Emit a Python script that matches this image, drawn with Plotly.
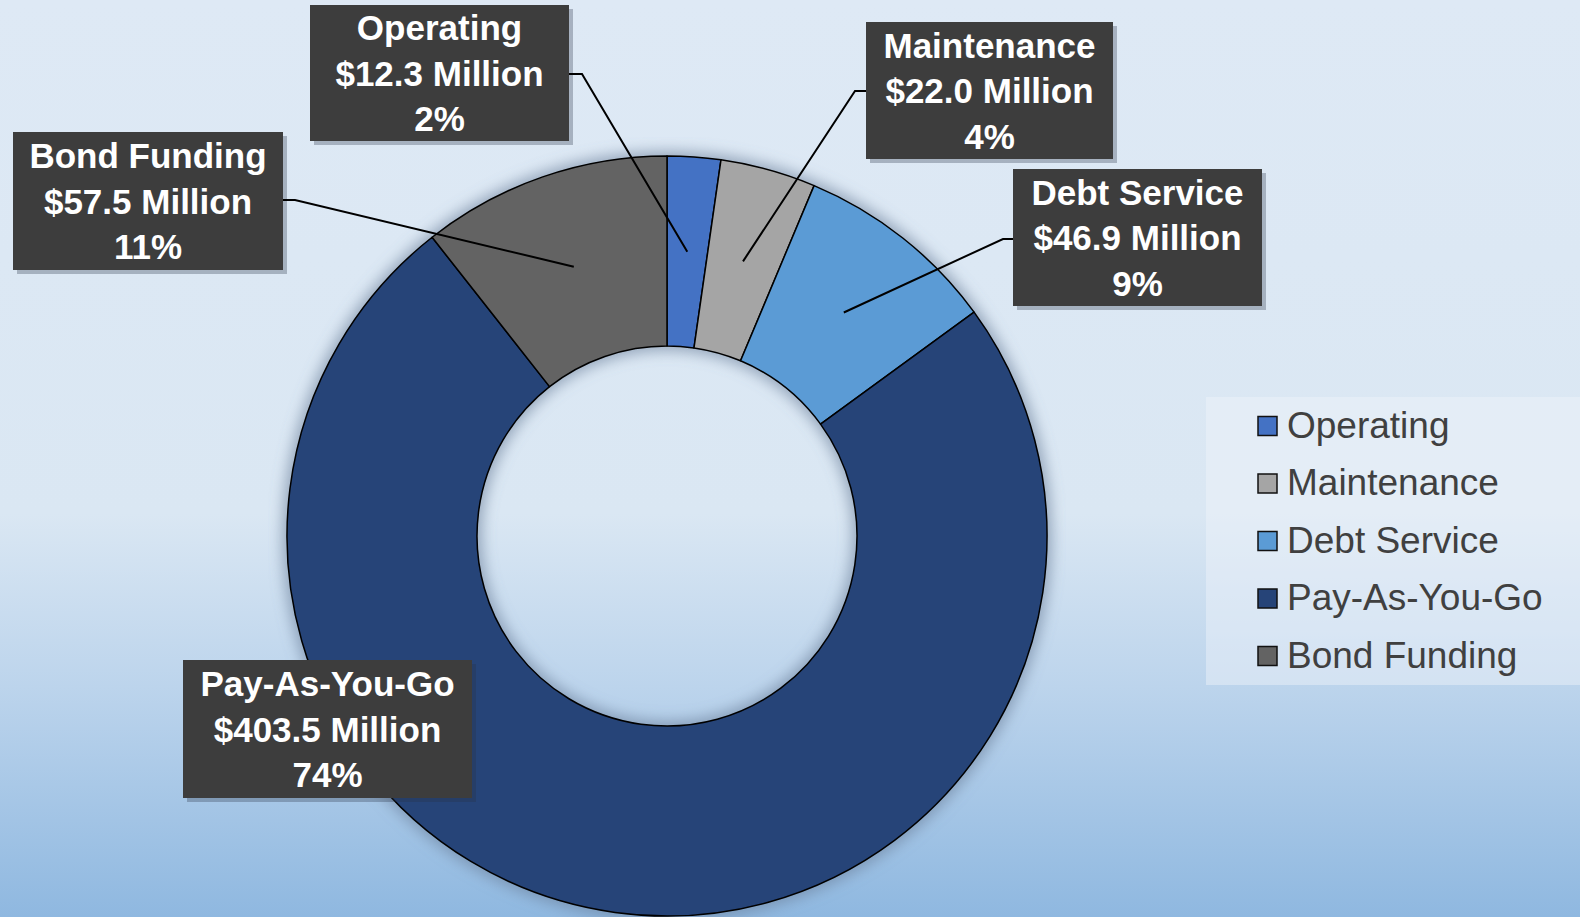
import base64
import math
import plotly.graph_objects as go

# ---- data -------------------------------------------------------------
categories = ["Operating", "Maintenance", "Debt Service", "Pay-As-You-Go", "Bond Funding"]
values_musd = [12.3, 22.0, 46.9, 403.5, 57.5]
colors = ["#4472C4", "#A5A5A5", "#5B9BD5", "#264478", "#636363"]

# ---- canvas / geometry ------------------------------------------------
W, H = 1580, 917
CX, CY, R = 667, 536, 380          # donut centre and outer radius (px)
HOLE = 0.5

dom_x = [(CX - R) / W, (CX + R) / W]
dom_y = [1 - (CY + R) / H, 1 - (CY - R) / H]


def px(x):
    return x / W


def py(y):
    return 1 - y / H


# callout boxes: centre x, centre y, width, height, leader elbow (start x, end x, y) or None
callouts = {
    "Operating": (439.5, 73, 259, 136, (569, 582, 74)),
    "Maintenance": (989.5, 90.5, 247, 137, (866, 855, 91)),
    "Debt Service": (1137.5, 237.5, 249, 137, (1013, 1003, 239)),
    "Pay-As-You-Go": (327.5, 729, 289, 138, None),
    "Bond Funding": (148, 201, 270, 138, (283, 295, 200)),
}

# ---- background: vertical gradient + soft shadow under the ring -------
ring_mid = R * (1 + HOLE) / 2
ring_w = R * (1 - HOLE)
svg = f"""<svg xmlns='http://www.w3.org/2000/svg' width='{W}' height='{H}' viewBox='0 0 {W} {H}'>
<defs>
<linearGradient id='g' x1='0' y1='0' x2='0' y2='1'>
<stop offset='0' stop-color='#dee9f5'/>
<stop offset='0.56' stop-color='#dae7f3'/>
<stop offset='0.75' stop-color='#bcd4ec'/>
<stop offset='1' stop-color='#8fb8e0'/>
</linearGradient>
<filter id='b' x='-20%' y='-20%' width='140%' height='140%'><feGaussianBlur stdDeviation='7'/></filter>
</defs>
<rect width='{W}' height='{H}' fill='url(#g)'/>
<circle cx='{CX}' cy='{CY}' r='{ring_mid}' fill='none' stroke='#6a7f99' stroke-opacity='0.6'
 stroke-width='{ring_w + 10}' filter='url(#b)'/>
</svg>"""
bg_uri = "data:image/svg+xml;base64," + base64.b64encode(svg.encode()).decode()

fig = go.Figure()
fig.add_trace(go.Pie(
    labels=categories,
    values=values_musd,
    marker=dict(colors=colors, line=dict(color="#000000", width=1.5)),
    hole=HOLE,
    sort=False,
    direction="clockwise",
    rotation=0,
    textinfo="none",
    hoverinfo="label+value+percent",
    showlegend=False,
    domain=dict(x=dom_x, y=dom_y),
))

total = sum(values_musd)
shapes = []
annotations = []

# ---- callouts with leader lines --------------------------------------
cum = 0.0
for name, val in zip(categories, values_musd):
    frac = val / total
    mid = (cum + frac / 2) * 2 * math.pi
    cum += frac
    ax = CX + 0.75 * R * math.sin(mid)
    ay = CY - 0.75 * R * math.cos(mid)

    bx, by, bw, bh, elbow = callouts[name]
    # drop shadow behind the box
    shapes.append(dict(
        type="rect", xref="paper", yref="paper", layer="above",
        x0=px(bx - bw / 2 + 4), x1=px(bx + bw / 2 + 4),
        y0=py(by + bh / 2 + 4), y1=py(by - bh / 2 + 4),
        fillcolor="rgba(40,50,70,0.30)", line=dict(width=0),
    ))
    if elbow is not None:
        x0, x1, ey = elbow
        shapes.append(dict(
            type="path", xref="paper", yref="paper", layer="above",
            path=f"M{px(x0)},{py(ey)} L{px(x1)},{py(ey)} L{px(ax)},{py(ay)}",
            line=dict(color="#000000", width=2),
        ))
    annotations.append(dict(
        xref="paper", yref="paper", x=px(bx), y=py(by),
        xanchor="center", yanchor="middle",
        text=f"<b>{name}<br>${val:.1f} Million<br>{round(frac * 100):.0f}%</b>",
        showarrow=False, align="center", valign="middle",
        width=bw, height=bh, borderpad=0, borderwidth=0,
        bgcolor="#3d3d3d",
        font=dict(family="Liberation Sans, Arial, sans-serif", size=35, color="#ffffff"),
    ))

# ---- legend ----------------------------------------------------------
LEG_X0, LEG_X1, LEG_Y0, LEG_Y1 = 1206, 1580, 397, 685
shapes.append(dict(
    type="rect", xref="paper", yref="paper", layer="above",
    x0=px(LEG_X0), x1=px(LEG_X1), y0=py(LEG_Y1), y1=py(LEG_Y0),
    fillcolor="rgba(240,245,250,0.45)", line=dict(width=0),
))
for i, (name, col) in enumerate(zip(categories, colors)):
    yc = 426 + i * 57.5
    shapes.append(dict(
        type="rect", xref="paper", yref="paper", layer="above",
        x0=px(1258), x1=px(1277), y0=py(yc + 9.5), y1=py(yc - 9.5),
        fillcolor=col, line=dict(color="#111111", width=1.5),
    ))
    annotations.append(dict(
        xref="paper", yref="paper", x=px(1285), y=py(yc - 1),
        xanchor="left", yanchor="middle", text=name, showarrow=False,
        font=dict(family="Liberation Sans, Arial, sans-serif", size=37, color="#404040"),
    ))

fig.update_layout(
    width=W, height=H,
    margin=dict(l=0, r=0, t=0, b=0),
    paper_bgcolor="#dde8f4",
    plot_bgcolor="rgba(0,0,0,0)",
    images=[dict(source=bg_uri, xref="paper", yref="paper", x=0, y=1,
                 sizex=1, sizey=1, xanchor="left", yanchor="top",
                 sizing="stretch", layer="below")],
    shapes=shapes,
    annotations=annotations,
    showlegend=False,
)

fig.write_html("out.html", config={"displayModeBar": False})
